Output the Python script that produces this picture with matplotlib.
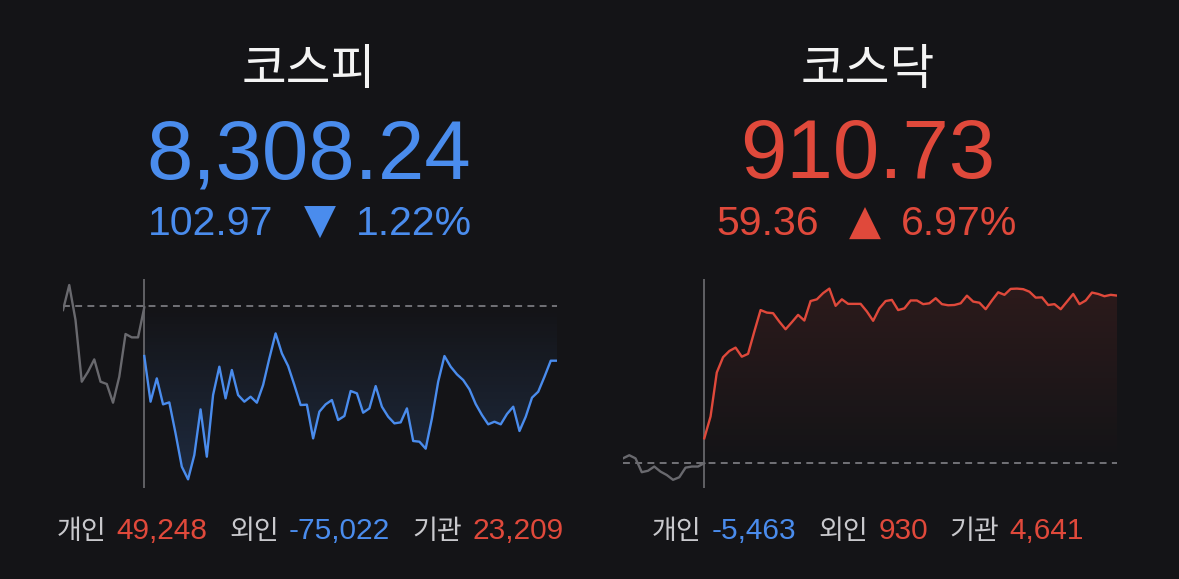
import numpy as np
import matplotlib.pyplot as plt
from matplotlib.patches import PathPatch
from matplotlib.colors import to_rgb

# --- DANE ---

kospi_name = '코스피'
kospi_value = '8,308.24'
kospi_change = '102.97'
kospi_pct = '1.22%'
kospi_base = 8411.21          # poprzednie zamkniecie
kospi_flows = [('개인', '49,248'), ('외인', '-75,022'), ('기관', '23,209')]

kosdaq_name = '코스닥'
kosdaq_value = '910.73'
kosdaq_change = '59.36'
kosdaq_pct = '6.97%'
kosdaq_base = 851.37
kosdaq_flows = [('개인', '-5,463'), ('외인', '930'), ('기관', '4,641')]

kospi_prev = [8403.1, 8449.9, 8384.4, 8268.9, 8287.6, 8310.7, 8268.9, 8264.6,
              8229.6, 8278.3, 8358.2, 8351.9, 8351.9, 8408.1]
kospi_today = [8317.0, 8231.5, 8275.2, 8226.5, 8230.2, 8172.2, 8109.8, 8086.1,
               8131.6, 8217.1, 8128.5, 8244.0, 8297.0, 8237.7, 8290.8, 8244.0,
               8231.5, 8240.8, 8229.6, 8262.7, 8312.6, 8359.4, 8322.0, 8298.3,
               8262.7, 8225.2, 8225.9, 8162.8, 8212.8, 8226.5, 8234.6, 8197.2,
               8204.7, 8251.5, 8247.1, 8210.9, 8219.0, 8260.8, 8222.1, 8203.4,
               8190.9, 8192.8, 8219.0, 8157.9, 8156.6, 8143.5, 8200.3, 8268.9,
               8317.0, 8297.0, 8282.7, 8272.0, 8254.6, 8227.1, 8206.5, 8189.1,
               8194.0, 8189.1, 8208.4, 8222.1, 8176.6, 8203.4, 8239.0, 8250.2,
               8278.3, 8308.2, 8308.24]

kosdaq_prev = [853.1, 854.2, 853.1, 848.2, 848.7, 850.2, 848.4, 847.2,
               845.5, 846.4, 849.8, 850.2, 850.2, 851.4]
kosdaq_today = [860.2, 867.9, 883.5, 888.9, 891.1, 892.3, 889.1, 890.1,
                898.0, 905.6, 904.7, 904.5, 901.5, 898.8, 901.3, 903.9,
                901.9, 908.8, 909.4, 911.6, 913.2, 907.1, 909.4, 907.8,
                907.8, 907.8, 905.1, 901.8, 906.2, 908.8, 909.2, 905.6,
                906.2, 909.0, 909.0, 907.7, 908.0, 909.8, 907.7, 907.3,
                907.4, 908.0, 910.7, 908.6, 908.2, 905.9, 909.0, 911.9,
                911.0, 913.1, 913.2, 913.0, 912.1, 910.0, 910.1, 907.4,
                907.7, 905.9, 908.6, 911.3, 907.7, 909.0, 911.8, 911.3,
                910.5, 911.0, 910.73]

# --- STYL ---

BG = '#141417'
BLUE = '#4a8ced'
RED = '#e0493b'
GRAY_LINE = '#69696e'
LABEL = '#c9c9cd'
NUM_FONT = ['Liberation Sans', 'Noto Sans CJK KR', 'DejaVu Sans']
KR_FONT = ['Noto Sans CJK KR', 'DejaVu Sans']

W, H = 1179, 579
fig = plt.figure(figsize=(W / 100, H / 100), dpi=100)
fig.patch.set_facecolor(BG)
renderer = fig.canvas.get_renderer()


def text_row(pieces, cx, base_y):
    # pieces: (tekst, kolor, rozmiar, rodzina, odstep_przed_px, dy_px)
    items = []
    for s, color, size, fam, gap, dy in pieces:
        t = fig.text(0, 1 - (base_y + dy) / H, s, color=color, fontsize=size,
                     family=fam, va='baseline', ha='left')
        w = t.get_window_extent(renderer).width
        items.append((t, w, gap))
    total = sum(w + gap for _, w, gap in items)
    x = cx - total / 2
    for t, w, gap in items:
        x += gap
        t.set_x(x / W)
        x += w


def draw_chart(rect, prev, today, base, color, ylim, amax):
    ax = fig.add_axes(rect)
    ax.set_facecolor(BG)
    ax.axis('off')
    n = len(prev)
    x_prev = np.arange(n)
    x_today = np.arange(n - 1, n - 1 + len(today))
    today = np.array(today)

    # gradient pod/nad linia
    poly = ax.fill_between(x_today, today, base, color='none', lw=0)
    clip = PathPatch(poly.get_paths()[0], transform=ax.transData,
                     facecolor='none', edgecolor='none')
    ax.add_patch(clip)
    ext = today.min() if abs(today.min() - base) > abs(today.max() - base) else today.max()
    ys = np.linspace(ylim[0], ylim[1], 300)
    a = np.clip(np.abs(ys - base) / abs(ext - base), 0, 1) * amax
    img = np.zeros((300, 2, 4))
    img[:, :, :3] = to_rgb(color)
    img[:, :, 3] = a[:, None]
    im = ax.imshow(img, extent=[x_today[0], x_today[-1], ylim[0], ylim[1]],
                   origin='lower', aspect='auto', interpolation='bilinear', zorder=1)
    im.set_clip_path(clip)

    ax.axhline(base, color='#8c8c91', lw=1.1, ls=(0, (4.5, 3.5)), zorder=2)
    ax.axvline(x_today[0], color='#75757a', lw=1.1, zorder=2)
    ax.plot(x_prev, prev, color=GRAY_LINE, lw=1.7, zorder=3)
    ax.plot(x_today, today, color=color, lw=1.7, zorder=4)
    ax.set_xlim(0, x_today[-1])
    ax.set_ylim(*ylim)
    return ax


# --- LEWY PANEL: KOSPI ---
cxL, cxR = 309, 868

fig.text(cxL / W, 1 - 70 / H, kospi_name, color='#f4f4f4', fontsize=35,
         family=KR_FONT, ha='center', va='center')
fig.text(cxL / W, 1 - 178 / H, kospi_value, color=BLUE, fontsize=60,
         family=NUM_FONT, ha='center', va='baseline')
text_row([(kospi_change, BLUE, 29.5, NUM_FONT, 0, 0),
          ('▼', BLUE, 30, ['DejaVu Sans'], 30, -1),
          (kospi_pct, BLUE, 29.5, NUM_FONT, 20, 0)], cxL + 1, 235)

draw_chart([63 / W, 1 - 488 / H, 494 / W, 209 / H], kospi_prev, kospi_today,
           kospi_base, BLUE, (8069.9, 8461.2), 0.19)

pieces = []
for i, (lab, val) in enumerate(kospi_flows):
    col = BLUE if val.startswith('-') else RED
    pieces.append((lab, LABEL, 19.5, KR_FONT, 0 if i == 0 else 22, 0))
    pieces.append((val, col, 21.5, NUM_FONT, 10, 0))
text_row(pieces, cxL + 1, 539)

# --- PRAWY PANEL: KOSDAQ ---
fig.text(cxR / W, 1 - 70 / H, kosdaq_name, color='#f4f4f4', fontsize=35,
         family=KR_FONT, ha='center', va='center')
fig.text(cxR / W, 1 - 178 / H, kosdaq_value, color=RED, fontsize=60,
         family=NUM_FONT, ha='center', va='baseline')
text_row([(kosdaq_change, RED, 29.5, NUM_FONT, 0, 0),
          ('▲', RED, 30, ['DejaVu Sans'], 30, 0),
          (kosdaq_pct, RED, 29.5, NUM_FONT, 20, 0)], cxR - 1, 235)

draw_chart([623 / W, 1 - 488 / H, 494 / W, 209 / H], kosdaq_prev, kosdaq_today,
           kosdaq_base, RED, (842.6, 916.6), 0.12)

pieces = []
for i, (lab, val) in enumerate(kosdaq_flows):
    col = BLUE if val.startswith('-') else RED
    pieces.append((lab, LABEL, 19.5, KR_FONT, 0 if i == 0 else 22, 0))
    pieces.append((val, col, 21.5, NUM_FONT, 10, 0))
text_row(pieces, cxR, 539)

fig.savefig('out.png', dpi=100, facecolor=BG)
